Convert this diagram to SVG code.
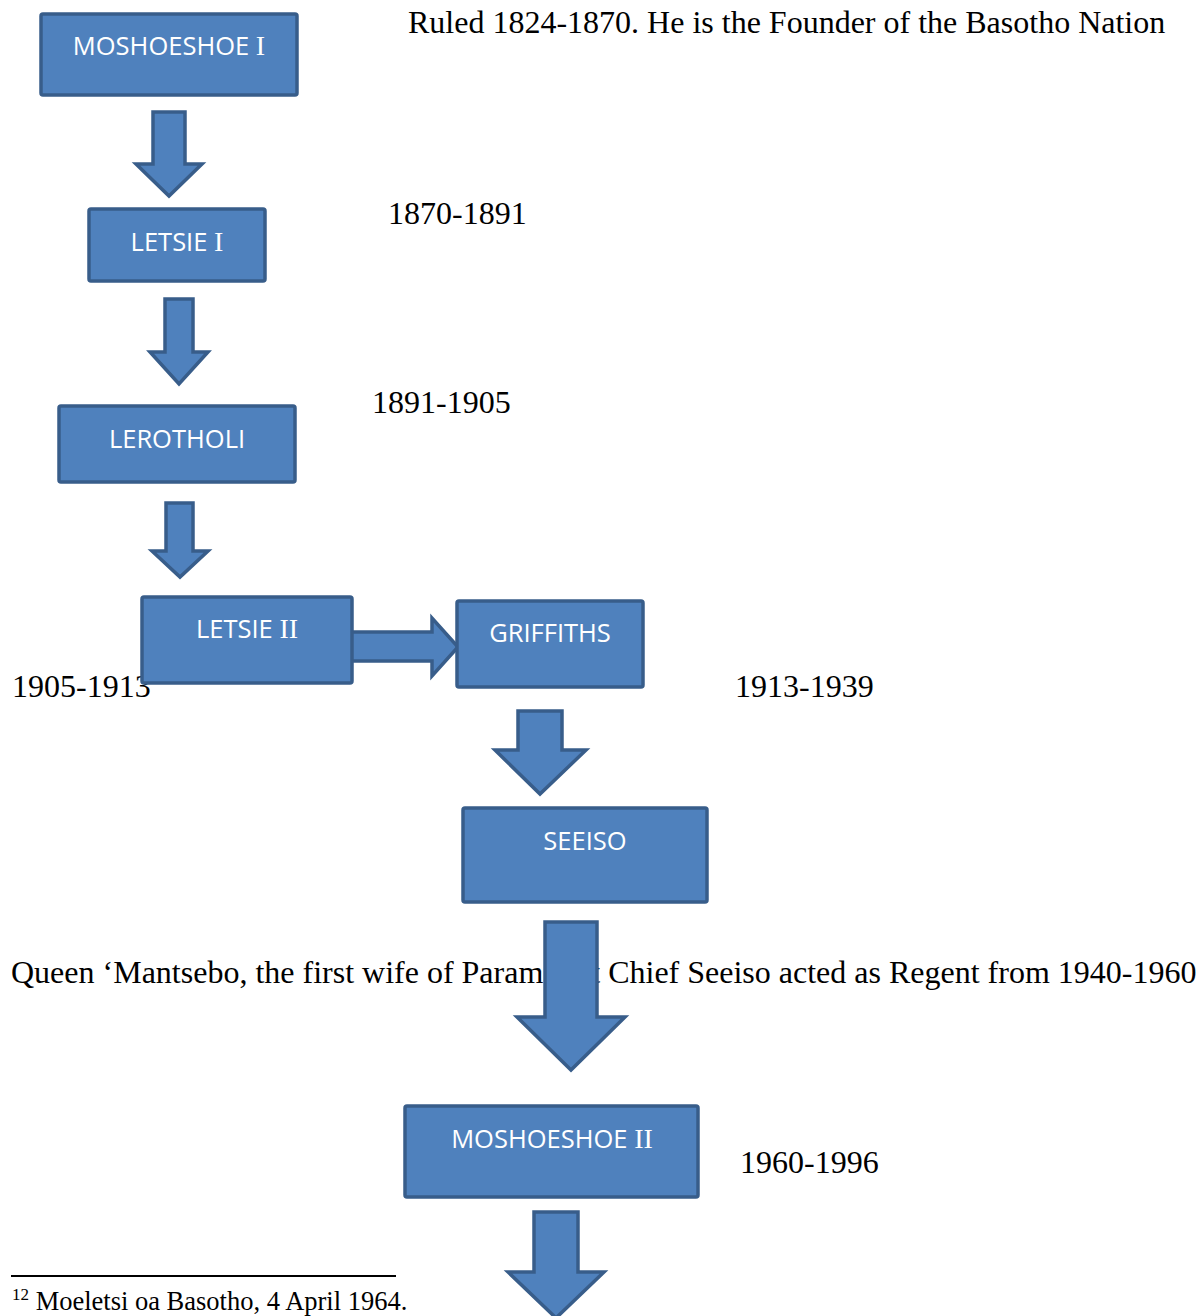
<svg xmlns="http://www.w3.org/2000/svg" width="1203" height="1316" viewBox="0 0 1203 1316">
  <style>
    .box { fill: #4f81bd; stroke: #385d8a; stroke-width: 3.5; }
    .arrow { fill: #4f81bd; stroke: #385d8a; stroke-width: 3.5; stroke-linejoin: miter; }
    .label { fill: #ffffff; font-family: "Open Sans", "Liberation Sans", sans-serif; font-size: 25.5px; text-anchor: middle; }
    .roman { font-family: "Liberation Serif", serif; font-size: 28px; }
    .note { fill: #000000; font-family: "Liberation Serif", serif; font-size: 32px; }
    .foot { fill: #000000; font-family: "Liberation Serif", serif; font-size: 26.5px; }
  </style>

  <rect width="1203" height="1316" fill="#ffffff"/>

  <!-- reign notes, sitting beneath the chart shapes -->
  <g id="notes">
    <text class="note" x="408" y="33">Ruled 1824-1870. He is the Founder of the Basotho Nation</text>
    <text class="note" x="388" y="224">1870-1891</text>
    <text class="note" x="372" y="413">1891-1905</text>
    <text class="note" x="12" y="697">1905-1913</text>
    <text class="note" x="735" y="697">1913-1939</text>
    <text class="note" x="11" y="983">Queen ‘Mantsebo, the first wife of Paramount Chief Seeiso acted as Regent from 1940-1960</text>
    <text class="note" x="740" y="1173">1960-1996</text>
  </g>

  <!-- footnote -->
  <g id="footnote">
    <line x1="11" y1="1276" x2="396" y2="1276" stroke="#000000" stroke-width="2"/>
    <text class="foot" x="12" y="1310"><tspan font-size="17" dy="-10">12</tspan><tspan dy="10"> Moeletsi oa Basotho, 4 April 1964.</tspan></text>
  </g>

  <!-- block arrows between rulers -->
  <g id="connectors">
    <polygon class="arrow" points="153,112 185,112 185,164 202,164 169,196 136,164 153,164"/>
    <polygon class="arrow" points="165,299 193,299 193,352 208,352 179,384 150,352 165,352"/>
    <polygon class="arrow" points="166,503 193,503 193,551 208,551 180,577 152,551 166,551"/>
    <polygon class="arrow" points="350,632 432,632 432,618 458,647 432,676 432,661 350,661"/>
    <polygon class="arrow" points="518,711 562,711 562,750 586,750 540,794 495,750 518,750"/>
    <polygon class="arrow" points="545,922 597,922 597,1017 625,1017 571,1070 517,1017 545,1017"/>
    <polygon class="arrow" points="534,1212 578,1212 578,1272 604,1272 556,1318 508,1272 534,1272"/>
  </g>

  <g id="moshoeshoe-1">
    <rect class="box" x="41" y="14" width="256" height="81" rx="2"/>
    <text class="label" x="169" y="55">MOSHOESHOE <tspan class="roman">I</tspan></text>
  </g>

  <g id="letsie-1">
    <rect class="box" x="89" y="209" width="176" height="72" rx="2"/>
    <text class="label" x="177" y="251">LETSIE <tspan class="roman">I</tspan></text>
  </g>

  <g id="lerotholi">
    <rect class="box" x="59" y="406" width="236" height="76" rx="2"/>
    <text class="label" x="177" y="448">LEROTHOLI</text>
  </g>

  <g id="letsie-2">
    <rect class="box" x="142" y="597" width="210" height="86" rx="2"/>
    <text class="label" x="247" y="638">LETSIE <tspan class="roman">II</tspan></text>
  </g>

  <g id="griffiths">
    <rect class="box" x="457" y="601" width="186" height="86" rx="2"/>
    <text class="label" x="550" y="642">GRIFFITHS</text>
  </g>

  <g id="seeiso">
    <rect class="box" x="463" y="808" width="244" height="94" rx="2"/>
    <text class="label" x="585" y="850">SEEISO</text>
  </g>

  <g id="moshoeshoe-2">
    <rect class="box" x="405" y="1106" width="293" height="91" rx="2"/>
    <text class="label" x="552" y="1148">MOSHOESHOE <tspan class="roman">II</tspan></text>
  </g>
</svg>
